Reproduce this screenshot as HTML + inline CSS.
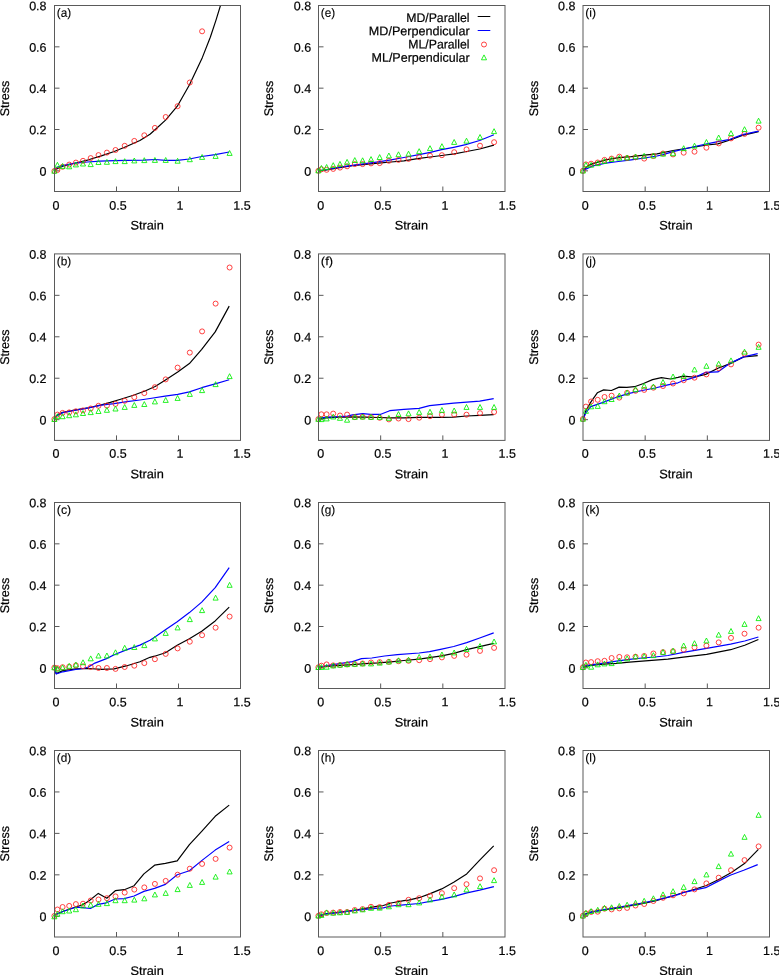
<!DOCTYPE html><html><head><meta charset="utf-8"><style>html,body{margin:0;padding:0;background:#fff;overflow:hidden;}svg{display:block;will-change:transform;}text{font-family:"Liberation Sans",sans-serif;text-rendering:geometricPrecision;fill:#000;stroke:#000;stroke-width:0.2px;}</style></head><body>
<svg width="779" height="975" viewBox="0 0 779 975">
<rect width="779" height="975" fill="#fff"/>
<path d="M54.50 170.83h5 M54.50 129.50h5 M54.50 88.17h5 M54.50 46.83h5 M116.50 191.50v-5 M178.50 191.50v-5" stroke="#5a5a5a" stroke-width="1" fill="none"/>
<text transform="rotate(0.05 46.55 175.68)" x="46.55" y="175.68" text-anchor="end" font-size="12.5">0</text>
<text transform="rotate(0.05 46.55 134.35)" x="46.55" y="134.35" text-anchor="end" font-size="12.5">0.2</text>
<text transform="rotate(0.05 46.55 93.02)" x="46.55" y="93.02" text-anchor="end" font-size="12.5">0.4</text>
<text transform="rotate(0.05 46.55 51.68)" x="46.55" y="51.68" text-anchor="end" font-size="12.5">0.6</text>
<text transform="rotate(0.05 46.55 10.35)" x="46.55" y="10.35" text-anchor="end" font-size="12.5">0.8</text>
<text transform="rotate(0.05 56.05 209.74)" x="56.05" y="209.74" text-anchor="middle" font-size="12.5">0</text>
<text transform="rotate(0.05 118.05 209.74)" x="118.05" y="209.74" text-anchor="middle" font-size="12.5">0.5</text>
<text transform="rotate(0.05 180.05 209.74)" x="180.05" y="209.74" text-anchor="middle" font-size="12.5">1</text>
<text transform="rotate(0.05 242.05 209.74)" x="242.05" y="209.74" text-anchor="middle" font-size="12.5">1.5</text>
<text transform="rotate(0.05 147.10 229.40)" x="147.10" y="229.40" text-anchor="middle" font-size="12.5" textLength="33.4" lengthAdjust="spacingAndGlyphs">Strain</text>
<text transform="translate(9.10 98.50) rotate(-90)" text-anchor="middle" font-size="12.5">Stress</text>
<text transform="rotate(0.05 56.80 16.80)" x="56.80" y="16.80" font-size="12.0" textLength="14.4" lengthAdjust="spacingAndGlyphs" style="stroke-width:0.12px">(a)</text>
<clipPath id="clipa"><rect x="54.5" y="5.5" width="186.0" height="186.0"/></clipPath>
<g clip-path="url(#clipa)">
<polyline points="54.5,170.0 62.8,166.2 75.7,163.0 88.5,159.8 101.3,155.9 114.2,151.5 127.0,146.3 139.9,140.5 150.0,134.2 157.2,127.8 165.8,119.9 177.3,106.2 189.5,84.7 202.4,57.4 210.3,37.3 216.0,20.1 229.2,-23.0" fill="none" stroke="#000000" stroke-width="1.2" stroke-linejoin="round"/>
<polyline points="54.5,169.5 57.7,167.0 62.5,165.7 75.0,163.2 87.5,162.0 100.1,161.2 115.0,160.7 127.0,160.3 143.9,160.2 155.1,159.5 165.4,160.4 177.2,160.4 189.4,159.0 201.7,156.5 215.2,154.7 229.2,152.0" fill="none" stroke="#0000ff" stroke-width="1.2" stroke-linejoin="round"/>
</g>
<circle cx="54.4" cy="171.0" r="2.5" fill="none" stroke="#ff2020" stroke-width="0.85"/>
<circle cx="57.4" cy="170.0" r="2.5" fill="none" stroke="#ff2020" stroke-width="0.85"/>
<circle cx="62.6" cy="166.8" r="2.5" fill="none" stroke="#ff2020" stroke-width="0.85"/>
<circle cx="69.2" cy="164.6" r="2.5" fill="none" stroke="#ff2020" stroke-width="0.85"/>
<circle cx="75.9" cy="162.6" r="2.5" fill="none" stroke="#ff2020" stroke-width="0.85"/>
<circle cx="83.0" cy="160.8" r="2.5" fill="none" stroke="#ff2020" stroke-width="0.85"/>
<circle cx="90.7" cy="158.1" r="2.5" fill="none" stroke="#ff2020" stroke-width="0.85"/>
<circle cx="98.5" cy="155.1" r="2.5" fill="none" stroke="#ff2020" stroke-width="0.85"/>
<circle cx="106.9" cy="152.6" r="2.5" fill="none" stroke="#ff2020" stroke-width="0.85"/>
<circle cx="115.5" cy="150.0" r="2.5" fill="none" stroke="#ff2020" stroke-width="0.85"/>
<circle cx="124.7" cy="145.8" r="2.5" fill="none" stroke="#ff2020" stroke-width="0.85"/>
<circle cx="134.3" cy="140.9" r="2.5" fill="none" stroke="#ff2020" stroke-width="0.85"/>
<circle cx="144.3" cy="135.3" r="2.5" fill="none" stroke="#ff2020" stroke-width="0.85"/>
<circle cx="154.9" cy="127.9" r="2.5" fill="none" stroke="#ff2020" stroke-width="0.85"/>
<circle cx="165.7" cy="117.0" r="2.5" fill="none" stroke="#ff2020" stroke-width="0.85"/>
<circle cx="177.6" cy="106.2" r="2.5" fill="none" stroke="#ff2020" stroke-width="0.85"/>
<circle cx="189.8" cy="82.5" r="2.5" fill="none" stroke="#ff2020" stroke-width="0.85"/>
<circle cx="202.1" cy="31.3" r="2.5" fill="none" stroke="#ff2020" stroke-width="0.85"/>
<path d="M54.40 168.30L56.95 173.20L51.85 173.20ZM57.40 162.30L59.95 167.20L54.85 167.20ZM62.60 163.50L65.15 168.40L60.05 168.40ZM69.20 163.90L71.75 168.80L66.65 168.80ZM75.90 162.00L78.45 166.90L73.35 166.90ZM83.00 161.10L85.55 166.00L80.45 166.00ZM90.70 161.70L93.25 166.60L88.15 166.60ZM98.50 159.60L101.05 164.50L95.95 164.50ZM106.90 159.40L109.45 164.30L104.35 164.30ZM115.50 158.70L118.05 163.60L112.95 163.60ZM124.70 158.70L127.25 163.60L122.15 163.60ZM134.30 158.00L136.85 162.90L131.75 162.90ZM144.30 157.70L146.85 162.60L141.75 162.60ZM154.90 157.50L157.45 162.40L152.35 162.40ZM165.70 157.50L168.25 162.40L163.15 162.40ZM177.60 158.30L180.15 163.20L175.05 163.20ZM189.80 156.80L192.35 161.70L187.25 161.70ZM202.10 154.50L204.65 159.40L199.55 159.40ZM215.60 153.50L218.15 158.40L213.05 158.40ZM229.60 150.50L232.15 155.40L227.05 155.40Z" fill="none" stroke="#00ee00" stroke-width="0.85"/>
<rect x="54.5" y="5.5" width="186.0" height="186.0" fill="none" stroke="#5a5a5a" stroke-width="1"/>
<path d="M54.50 419.68h5 M54.50 378.23h5 M54.50 336.79h5 M54.50 295.34h5 M116.50 440.40v-5 M178.50 440.40v-5" stroke="#5a5a5a" stroke-width="1" fill="none"/>
<text transform="rotate(0.05 46.55 424.53)" x="46.55" y="424.53" text-anchor="end" font-size="12.5">0</text>
<text transform="rotate(0.05 46.55 383.08)" x="46.55" y="383.08" text-anchor="end" font-size="12.5">0.2</text>
<text transform="rotate(0.05 46.55 341.64)" x="46.55" y="341.64" text-anchor="end" font-size="12.5">0.4</text>
<text transform="rotate(0.05 46.55 300.19)" x="46.55" y="300.19" text-anchor="end" font-size="12.5">0.6</text>
<text transform="rotate(0.05 46.55 258.75)" x="46.55" y="258.75" text-anchor="end" font-size="12.5">0.8</text>
<text transform="rotate(0.05 56.05 457.69)" x="56.05" y="457.69" text-anchor="middle" font-size="12.5">0</text>
<text transform="rotate(0.05 118.05 457.69)" x="118.05" y="457.69" text-anchor="middle" font-size="12.5">0.5</text>
<text transform="rotate(0.05 180.05 457.69)" x="180.05" y="457.69" text-anchor="middle" font-size="12.5">1</text>
<text transform="rotate(0.05 242.05 457.69)" x="242.05" y="457.69" text-anchor="middle" font-size="12.5">1.5</text>
<text transform="rotate(0.05 147.10 478.30)" x="147.10" y="478.30" text-anchor="middle" font-size="12.5" textLength="33.4" lengthAdjust="spacingAndGlyphs">Strain</text>
<text transform="translate(9.10 347.15) rotate(-90)" text-anchor="middle" font-size="12.5">Stress</text>
<text transform="rotate(0.05 56.80 265.20)" x="56.80" y="265.20" font-size="12.0" textLength="14.4" lengthAdjust="spacingAndGlyphs" style="stroke-width:0.12px">(b)</text>
<clipPath id="clipb"><rect x="54.5" y="253.9" width="186.0" height="186.49999999999997"/></clipPath>
<g clip-path="url(#clipb)">
<polyline points="54.5,418.4 57.7,414.6 62.8,412.4 75.7,409.8 88.5,407.8 101.3,404.9 110.3,402.4 120.6,399.2 133.4,395.3 145.0,391.0 155.1,386.5 165.1,380.2 177.7,371.9 189.4,363.6 201.7,349.4 215.2,331.9 229.2,306.1" fill="none" stroke="#000000" stroke-width="1.2" stroke-linejoin="round"/>
<polyline points="54.5,418.4 57.7,415.2 62.8,412.6 75.7,410.1 88.5,407.8 101.3,405.2 114.2,403.6 127.0,401.7 139.9,400.0 150.0,398.5 165.1,396.2 177.7,394.4 189.4,391.9 201.7,387.7 215.2,383.9 229.2,379.7" fill="none" stroke="#0000ff" stroke-width="1.2" stroke-linejoin="round"/>
</g>
<circle cx="54.4" cy="419.1" r="2.5" fill="none" stroke="#ff2020" stroke-width="0.85"/>
<circle cx="57.4" cy="414.6" r="2.5" fill="none" stroke="#ff2020" stroke-width="0.85"/>
<circle cx="62.6" cy="412.9" r="2.5" fill="none" stroke="#ff2020" stroke-width="0.85"/>
<circle cx="69.2" cy="412.4" r="2.5" fill="none" stroke="#ff2020" stroke-width="0.85"/>
<circle cx="75.9" cy="411.3" r="2.5" fill="none" stroke="#ff2020" stroke-width="0.85"/>
<circle cx="83.0" cy="410.4" r="2.5" fill="none" stroke="#ff2020" stroke-width="0.85"/>
<circle cx="90.7" cy="408.5" r="2.5" fill="none" stroke="#ff2020" stroke-width="0.85"/>
<circle cx="98.5" cy="405.8" r="2.5" fill="none" stroke="#ff2020" stroke-width="0.85"/>
<circle cx="106.9" cy="405.6" r="2.5" fill="none" stroke="#ff2020" stroke-width="0.85"/>
<circle cx="115.5" cy="403.9" r="2.5" fill="none" stroke="#ff2020" stroke-width="0.85"/>
<circle cx="124.7" cy="400.8" r="2.5" fill="none" stroke="#ff2020" stroke-width="0.85"/>
<circle cx="134.3" cy="397.2" r="2.5" fill="none" stroke="#ff2020" stroke-width="0.85"/>
<circle cx="144.3" cy="393.1" r="2.5" fill="none" stroke="#ff2020" stroke-width="0.85"/>
<circle cx="154.9" cy="387.2" r="2.5" fill="none" stroke="#ff2020" stroke-width="0.85"/>
<circle cx="165.7" cy="379.4" r="2.5" fill="none" stroke="#ff2020" stroke-width="0.85"/>
<circle cx="177.6" cy="367.6" r="2.5" fill="none" stroke="#ff2020" stroke-width="0.85"/>
<circle cx="189.8" cy="352.6" r="2.5" fill="none" stroke="#ff2020" stroke-width="0.85"/>
<circle cx="202.1" cy="331.4" r="2.5" fill="none" stroke="#ff2020" stroke-width="0.85"/>
<circle cx="215.6" cy="303.6" r="2.5" fill="none" stroke="#ff2020" stroke-width="0.85"/>
<circle cx="229.6" cy="267.5" r="2.5" fill="none" stroke="#ff2020" stroke-width="0.85"/>
<path d="M54.40 416.60L56.95 421.50L51.85 421.50ZM57.40 413.80L59.95 418.70L54.85 418.70ZM62.60 413.80L65.15 418.70L60.05 418.70ZM69.20 412.80L71.75 417.70L66.65 417.70ZM75.90 411.90L78.45 416.80L73.35 416.80ZM83.00 410.60L85.55 415.50L80.45 415.50ZM90.70 409.70L93.25 414.60L88.15 414.60ZM98.50 408.60L101.05 413.50L95.95 413.50ZM106.90 407.40L109.45 412.30L104.35 412.30ZM115.50 406.10L118.05 411.00L112.95 411.00ZM124.70 404.50L127.25 409.40L122.15 409.40ZM134.30 402.50L136.85 407.40L131.75 407.40ZM144.30 401.60L146.85 406.50L141.75 406.50ZM154.90 399.00L157.45 403.90L152.35 403.90ZM165.70 397.50L168.25 402.40L163.15 402.40ZM177.60 395.50L180.15 400.40L175.05 400.40ZM189.80 391.50L192.35 396.40L187.25 396.40ZM202.10 387.70L204.65 392.60L199.55 392.60ZM215.60 381.70L218.15 386.60L213.05 386.60ZM229.60 373.70L232.15 378.60L227.05 378.60Z" fill="none" stroke="#00ee00" stroke-width="0.85"/>
<rect x="54.5" y="253.9" width="186.0" height="186.49999999999997" fill="none" stroke="#5a5a5a" stroke-width="1"/>
<path d="M54.50 667.83h5 M54.50 626.50h5 M54.50 585.17h5 M54.50 543.83h5 M116.50 688.50v-5 M178.50 688.50v-5" stroke="#5a5a5a" stroke-width="1" fill="none"/>
<text transform="rotate(0.05 46.55 672.68)" x="46.55" y="672.68" text-anchor="end" font-size="12.5">0</text>
<text transform="rotate(0.05 46.55 631.35)" x="46.55" y="631.35" text-anchor="end" font-size="12.5">0.2</text>
<text transform="rotate(0.05 46.55 590.02)" x="46.55" y="590.02" text-anchor="end" font-size="12.5">0.4</text>
<text transform="rotate(0.05 46.55 548.68)" x="46.55" y="548.68" text-anchor="end" font-size="12.5">0.6</text>
<text transform="rotate(0.05 46.55 507.35)" x="46.55" y="507.35" text-anchor="end" font-size="12.5">0.8</text>
<text transform="rotate(0.05 56.05 706.39)" x="56.05" y="706.39" text-anchor="middle" font-size="12.5">0</text>
<text transform="rotate(0.05 118.05 706.39)" x="118.05" y="706.39" text-anchor="middle" font-size="12.5">0.5</text>
<text transform="rotate(0.05 180.05 706.39)" x="180.05" y="706.39" text-anchor="middle" font-size="12.5">1</text>
<text transform="rotate(0.05 242.05 706.39)" x="242.05" y="706.39" text-anchor="middle" font-size="12.5">1.5</text>
<text transform="rotate(0.05 147.10 726.40)" x="147.10" y="726.40" text-anchor="middle" font-size="12.5" textLength="33.4" lengthAdjust="spacingAndGlyphs">Strain</text>
<text transform="translate(9.10 595.50) rotate(-90)" text-anchor="middle" font-size="12.5">Stress</text>
<text transform="rotate(0.05 56.80 513.80)" x="56.80" y="513.80" font-size="12.0" textLength="14.4" lengthAdjust="spacingAndGlyphs" style="stroke-width:0.12px">(c)</text>
<clipPath id="clipc"><rect x="54.5" y="502.5" width="186.0" height="186.0"/></clipPath>
<g clip-path="url(#clipc)">
<polyline points="54.5,667.4 56.2,673.6 62.8,670.6 75.7,668.9 88.5,668.5 101.3,669.3 114.2,668.9 127.0,665.7 139.9,661.8 150.0,657.3 154.6,656.2 165.4,652.7 177.2,645.2 189.4,638.7 201.7,631.2 215.2,620.9 229.2,607.1" fill="none" stroke="#000000" stroke-width="1.2" stroke-linejoin="round"/>
<polyline points="54.5,667.4 56.2,674.0 62.8,671.8 75.7,669.5 83.4,668.5 88.5,667.0 94.9,663.1 106.5,658.6 114.2,654.8 127.0,649.6 139.9,645.1 150.0,640.3 154.6,637.2 165.4,629.7 177.2,621.7 189.4,612.6 201.7,602.1 215.2,587.6 229.2,567.6" fill="none" stroke="#0000ff" stroke-width="1.2" stroke-linejoin="round"/>
</g>
<circle cx="54.4" cy="667.6" r="2.5" fill="none" stroke="#ff2020" stroke-width="0.85"/>
<circle cx="57.4" cy="668.2" r="2.5" fill="none" stroke="#ff2020" stroke-width="0.85"/>
<circle cx="62.6" cy="667.2" r="2.5" fill="none" stroke="#ff2020" stroke-width="0.85"/>
<circle cx="69.2" cy="666.7" r="2.5" fill="none" stroke="#ff2020" stroke-width="0.85"/>
<circle cx="75.9" cy="665.4" r="2.5" fill="none" stroke="#ff2020" stroke-width="0.85"/>
<circle cx="83.0" cy="666.3" r="2.5" fill="none" stroke="#ff2020" stroke-width="0.85"/>
<circle cx="90.7" cy="667.0" r="2.5" fill="none" stroke="#ff2020" stroke-width="0.85"/>
<circle cx="98.5" cy="668.0" r="2.5" fill="none" stroke="#ff2020" stroke-width="0.85"/>
<circle cx="106.9" cy="668.0" r="2.5" fill="none" stroke="#ff2020" stroke-width="0.85"/>
<circle cx="115.5" cy="668.9" r="2.5" fill="none" stroke="#ff2020" stroke-width="0.85"/>
<circle cx="124.7" cy="667.0" r="2.5" fill="none" stroke="#ff2020" stroke-width="0.85"/>
<circle cx="134.3" cy="665.7" r="2.5" fill="none" stroke="#ff2020" stroke-width="0.85"/>
<circle cx="144.3" cy="663.1" r="2.5" fill="none" stroke="#ff2020" stroke-width="0.85"/>
<circle cx="154.9" cy="659.2" r="2.5" fill="none" stroke="#ff2020" stroke-width="0.85"/>
<circle cx="165.7" cy="653.9" r="2.5" fill="none" stroke="#ff2020" stroke-width="0.85"/>
<circle cx="177.6" cy="648.4" r="2.5" fill="none" stroke="#ff2020" stroke-width="0.85"/>
<circle cx="189.8" cy="641.7" r="2.5" fill="none" stroke="#ff2020" stroke-width="0.85"/>
<circle cx="202.1" cy="635.2" r="2.5" fill="none" stroke="#ff2020" stroke-width="0.85"/>
<circle cx="215.6" cy="627.7" r="2.5" fill="none" stroke="#ff2020" stroke-width="0.85"/>
<circle cx="229.6" cy="616.6" r="2.5" fill="none" stroke="#ff2020" stroke-width="0.85"/>
<path d="M54.40 664.90L56.95 669.80L51.85 669.80ZM57.40 666.20L59.95 671.10L54.85 671.10ZM62.60 664.90L65.15 669.80L60.05 669.80ZM69.20 663.40L71.75 668.30L66.65 668.30ZM75.90 662.10L78.45 667.00L73.35 667.00ZM83.00 659.80L85.55 664.70L80.45 664.70ZM90.70 655.90L93.25 660.80L88.15 660.80ZM98.50 653.10L101.05 658.00L95.95 658.00ZM106.90 653.00L109.45 657.90L104.35 657.90ZM115.50 649.80L118.05 654.70L112.95 654.70ZM124.70 645.30L127.25 650.20L122.15 650.20ZM134.30 644.60L136.85 649.50L131.75 649.50ZM144.30 642.70L146.85 647.60L141.75 647.60ZM154.90 636.00L157.45 640.90L152.35 640.90ZM165.70 630.50L168.25 635.40L163.15 635.40ZM177.60 625.00L180.15 629.90L175.05 629.90ZM189.80 616.70L192.35 621.60L187.25 621.60ZM202.10 607.70L204.65 612.60L199.55 612.60ZM215.60 595.20L218.15 600.10L213.05 600.10ZM229.60 582.40L232.15 587.30L227.05 587.30Z" fill="none" stroke="#00ee00" stroke-width="0.85"/>
<rect x="54.5" y="502.5" width="186.0" height="186.0" fill="none" stroke="#5a5a5a" stroke-width="1"/>
<path d="M54.50 916.28h5 M54.50 874.83h5 M54.50 833.39h5 M54.50 791.94h5 M116.50 937.00v-5 M178.50 937.00v-5" stroke="#5a5a5a" stroke-width="1" fill="none"/>
<text transform="rotate(0.05 46.55 921.13)" x="46.55" y="921.13" text-anchor="end" font-size="12.5">0</text>
<text transform="rotate(0.05 46.55 879.68)" x="46.55" y="879.68" text-anchor="end" font-size="12.5">0.2</text>
<text transform="rotate(0.05 46.55 838.24)" x="46.55" y="838.24" text-anchor="end" font-size="12.5">0.4</text>
<text transform="rotate(0.05 46.55 796.79)" x="46.55" y="796.79" text-anchor="end" font-size="12.5">0.6</text>
<text transform="rotate(0.05 46.55 755.35)" x="46.55" y="755.35" text-anchor="end" font-size="12.5">0.8</text>
<text transform="rotate(0.05 56.05 955.09)" x="56.05" y="955.09" text-anchor="middle" font-size="12.5">0</text>
<text transform="rotate(0.05 118.05 955.09)" x="118.05" y="955.09" text-anchor="middle" font-size="12.5">0.5</text>
<text transform="rotate(0.05 180.05 955.09)" x="180.05" y="955.09" text-anchor="middle" font-size="12.5">1</text>
<text transform="rotate(0.05 242.05 955.09)" x="242.05" y="955.09" text-anchor="middle" font-size="12.5">1.5</text>
<text transform="rotate(0.05 147.10 974.90)" x="147.10" y="974.90" text-anchor="middle" font-size="12.5" textLength="33.4" lengthAdjust="spacingAndGlyphs">Strain</text>
<text transform="translate(9.10 843.75) rotate(-90)" text-anchor="middle" font-size="12.5">Stress</text>
<text transform="rotate(0.05 56.80 761.80)" x="56.80" y="761.80" font-size="12.0" textLength="14.4" lengthAdjust="spacingAndGlyphs" style="stroke-width:0.12px">(d)</text>
<clipPath id="clipd"><rect x="54.5" y="750.5" width="186.0" height="186.5"/></clipPath>
<g clip-path="url(#clipd)">
<polyline points="54.1,915.3 62.8,911.5 75.7,907.0 82.1,905.0 88.5,901.2 98.3,893.4 106.8,898.2 115.3,890.7 124.3,889.7 134.1,885.7 143.9,873.9 154.6,865.2 165.4,863.4 177.2,860.9 189.4,844.6 201.7,831.4 215.2,816.3 229.2,805.1" fill="none" stroke="#000000" stroke-width="1.2" stroke-linejoin="round"/>
<polyline points="54.1,915.3 62.8,911.5 75.7,907.2 82.7,907.6 90.4,908.5 98.1,904.4 106.5,902.8 115.2,899.0 124.2,898.6 134.1,896.0 143.9,891.4 154.6,888.4 165.4,884.4 177.2,874.7 189.4,870.7 201.7,860.6 215.2,850.1 229.2,841.6" fill="none" stroke="#0000ff" stroke-width="1.2" stroke-linejoin="round"/>
</g>
<circle cx="54.4" cy="915.9" r="2.5" fill="none" stroke="#ff2020" stroke-width="0.85"/>
<circle cx="57.4" cy="909.5" r="2.5" fill="none" stroke="#ff2020" stroke-width="0.85"/>
<circle cx="62.6" cy="907.0" r="2.5" fill="none" stroke="#ff2020" stroke-width="0.85"/>
<circle cx="69.2" cy="905.9" r="2.5" fill="none" stroke="#ff2020" stroke-width="0.85"/>
<circle cx="75.9" cy="904.1" r="2.5" fill="none" stroke="#ff2020" stroke-width="0.85"/>
<circle cx="83.0" cy="903.7" r="2.5" fill="none" stroke="#ff2020" stroke-width="0.85"/>
<circle cx="90.7" cy="900.5" r="2.5" fill="none" stroke="#ff2020" stroke-width="0.85"/>
<circle cx="98.5" cy="899.5" r="2.5" fill="none" stroke="#ff2020" stroke-width="0.85"/>
<circle cx="106.9" cy="898.2" r="2.5" fill="none" stroke="#ff2020" stroke-width="0.85"/>
<circle cx="115.5" cy="896.4" r="2.5" fill="none" stroke="#ff2020" stroke-width="0.85"/>
<circle cx="124.7" cy="892.6" r="2.5" fill="none" stroke="#ff2020" stroke-width="0.85"/>
<circle cx="134.3" cy="889.6" r="2.5" fill="none" stroke="#ff2020" stroke-width="0.85"/>
<circle cx="144.3" cy="887.4" r="2.5" fill="none" stroke="#ff2020" stroke-width="0.85"/>
<circle cx="154.9" cy="883.9" r="2.5" fill="none" stroke="#ff2020" stroke-width="0.85"/>
<circle cx="165.7" cy="880.9" r="2.5" fill="none" stroke="#ff2020" stroke-width="0.85"/>
<circle cx="177.6" cy="874.7" r="2.5" fill="none" stroke="#ff2020" stroke-width="0.85"/>
<circle cx="189.8" cy="868.7" r="2.5" fill="none" stroke="#ff2020" stroke-width="0.85"/>
<circle cx="202.1" cy="863.9" r="2.5" fill="none" stroke="#ff2020" stroke-width="0.85"/>
<circle cx="215.6" cy="858.9" r="2.5" fill="none" stroke="#ff2020" stroke-width="0.85"/>
<circle cx="229.6" cy="847.6" r="2.5" fill="none" stroke="#ff2020" stroke-width="0.85"/>
<path d="M54.40 913.90L56.95 918.80L51.85 918.80ZM57.40 911.30L59.95 916.20L54.85 916.20ZM62.60 908.80L65.15 913.70L60.05 913.70ZM69.20 908.10L71.75 913.00L66.65 913.00ZM75.90 906.80L78.45 911.70L73.35 911.70ZM83.00 903.00L85.55 907.90L80.45 907.90ZM90.70 902.30L93.25 907.20L88.15 907.20ZM98.50 901.40L101.05 906.30L95.95 906.30ZM106.90 900.70L109.45 905.60L104.35 905.60ZM115.50 897.80L118.05 902.70L112.95 902.70ZM124.70 897.80L127.25 902.70L122.15 902.70ZM134.30 897.20L136.85 902.10L131.75 902.10ZM144.30 895.90L146.85 900.80L141.75 900.80ZM154.90 892.00L157.45 896.90L152.35 896.90ZM165.70 890.50L168.25 895.40L163.15 895.40ZM177.60 886.70L180.15 891.60L175.05 891.60ZM189.80 882.50L192.35 887.40L187.25 887.40ZM202.10 879.50L204.65 884.40L199.55 884.40ZM215.60 874.20L218.15 879.10L213.05 879.10ZM229.60 869.00L232.15 873.90L227.05 873.90Z" fill="none" stroke="#00ee00" stroke-width="0.85"/>
<rect x="54.5" y="750.5" width="186.0" height="186.5" fill="none" stroke="#5a5a5a" stroke-width="1"/>
<path d="M318.50 170.83h5 M318.50 129.50h5 M318.50 88.17h5 M318.50 46.83h5 M380.67 191.50v-5 M442.83 191.50v-5" stroke="#5a5a5a" stroke-width="1" fill="none"/>
<text transform="rotate(0.05 311.10 175.68)" x="311.10" y="175.68" text-anchor="end" font-size="12.5">0</text>
<text transform="rotate(0.05 311.10 134.35)" x="311.10" y="134.35" text-anchor="end" font-size="12.5">0.2</text>
<text transform="rotate(0.05 311.10 93.02)" x="311.10" y="93.02" text-anchor="end" font-size="12.5">0.4</text>
<text transform="rotate(0.05 311.10 51.68)" x="311.10" y="51.68" text-anchor="end" font-size="12.5">0.6</text>
<text transform="rotate(0.05 311.10 10.35)" x="311.10" y="10.35" text-anchor="end" font-size="12.5">0.8</text>
<text transform="rotate(0.05 320.70 209.74)" x="320.70" y="209.74" text-anchor="middle" font-size="12.5">0</text>
<text transform="rotate(0.05 382.87 209.74)" x="382.87" y="209.74" text-anchor="middle" font-size="12.5">0.5</text>
<text transform="rotate(0.05 445.03 209.74)" x="445.03" y="209.74" text-anchor="middle" font-size="12.5">1</text>
<text transform="rotate(0.05 507.20 209.74)" x="507.20" y="209.74" text-anchor="middle" font-size="12.5">1.5</text>
<text transform="rotate(0.05 411.35 229.40)" x="411.35" y="229.40" text-anchor="middle" font-size="12.5" textLength="33.4" lengthAdjust="spacingAndGlyphs">Strain</text>
<text transform="translate(273.10 98.50) rotate(-90)" text-anchor="middle" font-size="12.5">Stress</text>
<text transform="rotate(0.05 320.80 16.80)" x="320.80" y="16.80" font-size="12.0" textLength="14.4" lengthAdjust="spacingAndGlyphs" style="stroke-width:0.12px">(e)</text>
<clipPath id="clipe"><rect x="318.5" y="5.5" width="186.5" height="186.0"/></clipPath>
<g clip-path="url(#clipe)">
<polyline points="318.5,170.8 326.8,169.8 339.7,167.6 352.5,165.7 365.3,164.3 378.2,163.2 391.0,162.0 403.9,160.8 419.1,158.4 430.3,157.0 441.7,155.5 454.3,153.9 466.7,151.5 479.7,149.0 493.9,145.1" fill="none" stroke="#000000" stroke-width="1.2" stroke-linejoin="round"/>
<polyline points="318.5,170.8 326.8,169.5 339.7,167.2 352.5,165.4 365.3,163.7 378.2,161.8 391.0,159.9 403.9,157.5 419.0,154.6 430.3,152.3 441.6,149.7 453.7,147.3 465.6,144.7 479.7,140.5 493.9,134.8" fill="none" stroke="#0000ff" stroke-width="1.2" stroke-linejoin="round"/>
</g>
<circle cx="318.4" cy="170.8" r="2.5" fill="none" stroke="#ff2020" stroke-width="0.85"/>
<circle cx="321.4" cy="169.3" r="2.5" fill="none" stroke="#ff2020" stroke-width="0.85"/>
<circle cx="326.6" cy="169.8" r="2.5" fill="none" stroke="#ff2020" stroke-width="0.85"/>
<circle cx="333.2" cy="168.9" r="2.5" fill="none" stroke="#ff2020" stroke-width="0.85"/>
<circle cx="340.0" cy="167.6" r="2.5" fill="none" stroke="#ff2020" stroke-width="0.85"/>
<circle cx="347.1" cy="166.3" r="2.5" fill="none" stroke="#ff2020" stroke-width="0.85"/>
<circle cx="354.8" cy="164.1" r="2.5" fill="none" stroke="#ff2020" stroke-width="0.85"/>
<circle cx="362.6" cy="164.1" r="2.5" fill="none" stroke="#ff2020" stroke-width="0.85"/>
<circle cx="371.0" cy="163.4" r="2.5" fill="none" stroke="#ff2020" stroke-width="0.85"/>
<circle cx="379.7" cy="163.1" r="2.5" fill="none" stroke="#ff2020" stroke-width="0.85"/>
<circle cx="388.9" cy="160.8" r="2.5" fill="none" stroke="#ff2020" stroke-width="0.85"/>
<circle cx="398.5" cy="159.9" r="2.5" fill="none" stroke="#ff2020" stroke-width="0.85"/>
<circle cx="408.5" cy="158.9" r="2.5" fill="none" stroke="#ff2020" stroke-width="0.85"/>
<circle cx="419.2" cy="157.2" r="2.5" fill="none" stroke="#ff2020" stroke-width="0.85"/>
<circle cx="430.0" cy="155.7" r="2.5" fill="none" stroke="#ff2020" stroke-width="0.85"/>
<circle cx="441.9" cy="155.2" r="2.5" fill="none" stroke="#ff2020" stroke-width="0.85"/>
<circle cx="454.2" cy="152.2" r="2.5" fill="none" stroke="#ff2020" stroke-width="0.85"/>
<circle cx="466.5" cy="149.4" r="2.5" fill="none" stroke="#ff2020" stroke-width="0.85"/>
<circle cx="480.0" cy="145.7" r="2.5" fill="none" stroke="#ff2020" stroke-width="0.85"/>
<circle cx="494.1" cy="142.2" r="2.5" fill="none" stroke="#ff2020" stroke-width="0.85"/>
<path d="M318.40 167.90L320.95 172.80L315.85 172.80ZM321.41 165.50L323.96 170.40L318.86 170.40ZM326.62 164.50L329.17 169.40L324.07 169.40ZM333.24 162.70L335.79 167.60L330.69 167.60ZM339.96 161.40L342.51 166.30L337.41 166.30ZM347.08 159.40L349.63 164.30L344.53 164.30ZM354.80 157.60L357.35 162.50L352.25 162.50ZM362.62 157.80L365.17 162.70L360.07 162.70ZM371.04 156.60L373.59 161.50L368.49 161.50ZM379.66 154.60L382.21 159.50L377.11 159.50ZM388.89 153.00L391.44 157.90L386.34 157.90ZM398.51 151.80L401.06 156.70L395.96 156.70ZM408.54 151.20L411.09 156.10L405.99 156.10ZM419.17 148.70L421.72 153.60L416.62 153.60ZM430.00 145.70L432.55 150.60L427.45 150.60ZM441.93 143.70L444.48 148.60L439.38 148.60ZM454.16 139.50L456.71 144.40L451.61 144.40ZM466.50 138.20L469.05 143.10L463.95 143.10ZM480.03 134.50L482.58 139.40L477.48 139.40ZM494.07 128.70L496.62 133.60L491.52 133.60Z" fill="none" stroke="#00ee00" stroke-width="0.85"/>
<rect x="318.5" y="5.5" width="186.5" height="186.0" fill="none" stroke="#5a5a5a" stroke-width="1"/>
<path d="M318.50 419.68h5 M318.50 378.23h5 M318.50 336.79h5 M318.50 295.34h5 M380.67 440.40v-5 M442.83 440.40v-5" stroke="#5a5a5a" stroke-width="1" fill="none"/>
<text transform="rotate(0.05 311.10 424.53)" x="311.10" y="424.53" text-anchor="end" font-size="12.5">0</text>
<text transform="rotate(0.05 311.10 383.08)" x="311.10" y="383.08" text-anchor="end" font-size="12.5">0.2</text>
<text transform="rotate(0.05 311.10 341.64)" x="311.10" y="341.64" text-anchor="end" font-size="12.5">0.4</text>
<text transform="rotate(0.05 311.10 300.19)" x="311.10" y="300.19" text-anchor="end" font-size="12.5">0.6</text>
<text transform="rotate(0.05 311.10 258.75)" x="311.10" y="258.75" text-anchor="end" font-size="12.5">0.8</text>
<text transform="rotate(0.05 320.70 457.69)" x="320.70" y="457.69" text-anchor="middle" font-size="12.5">0</text>
<text transform="rotate(0.05 382.87 457.69)" x="382.87" y="457.69" text-anchor="middle" font-size="12.5">0.5</text>
<text transform="rotate(0.05 445.03 457.69)" x="445.03" y="457.69" text-anchor="middle" font-size="12.5">1</text>
<text transform="rotate(0.05 507.20 457.69)" x="507.20" y="457.69" text-anchor="middle" font-size="12.5">1.5</text>
<text transform="rotate(0.05 411.35 478.30)" x="411.35" y="478.30" text-anchor="middle" font-size="12.5" textLength="33.4" lengthAdjust="spacingAndGlyphs">Strain</text>
<text transform="translate(273.10 347.15) rotate(-90)" text-anchor="middle" font-size="12.5">Stress</text>
<text transform="rotate(0.05 320.80 265.20)" x="320.80" y="265.20" font-size="12.0" textLength="12.3" lengthAdjust="spacingAndGlyphs" style="stroke-width:0.12px">(f)</text>
<clipPath id="clipf"><rect x="318.5" y="253.9" width="186.5" height="186.49999999999997"/></clipPath>
<g clip-path="url(#clipf)">
<polyline points="318.5,418.7 326.8,417.9 339.7,417.1 352.5,416.8 365.3,417.1 378.2,417.5 391.0,417.9 403.9,417.9 419.1,417.4 441.7,417.4 453.7,417.2 466.7,416.0 479.7,415.4 493.7,414.7" fill="none" stroke="#000000" stroke-width="1.2" stroke-linejoin="round"/>
<polyline points="318.5,418.4 326.8,417.1 339.7,416.6 347.4,416.2 352.5,414.9 362.8,413.6 370.5,414.3 380.8,414.3 389.7,410.7 403.9,409.3 419.1,408.3 429.6,405.7 441.7,404.3 453.7,403.1 466.7,402.2 479.7,401.2 493.7,398.7" fill="none" stroke="#0000ff" stroke-width="1.2" stroke-linejoin="round"/>
</g>
<circle cx="318.4" cy="419.1" r="2.5" fill="none" stroke="#ff2020" stroke-width="0.85"/>
<circle cx="321.4" cy="414.3" r="2.5" fill="none" stroke="#ff2020" stroke-width="0.85"/>
<circle cx="326.6" cy="414.3" r="2.5" fill="none" stroke="#ff2020" stroke-width="0.85"/>
<circle cx="333.2" cy="413.6" r="2.5" fill="none" stroke="#ff2020" stroke-width="0.85"/>
<circle cx="340.0" cy="415.5" r="2.5" fill="none" stroke="#ff2020" stroke-width="0.85"/>
<circle cx="347.1" cy="414.6" r="2.5" fill="none" stroke="#ff2020" stroke-width="0.85"/>
<circle cx="354.8" cy="417.1" r="2.5" fill="none" stroke="#ff2020" stroke-width="0.85"/>
<circle cx="362.6" cy="416.8" r="2.5" fill="none" stroke="#ff2020" stroke-width="0.85"/>
<circle cx="371.0" cy="417.1" r="2.5" fill="none" stroke="#ff2020" stroke-width="0.85"/>
<circle cx="379.7" cy="417.8" r="2.5" fill="none" stroke="#ff2020" stroke-width="0.85"/>
<circle cx="388.9" cy="419.4" r="2.5" fill="none" stroke="#ff2020" stroke-width="0.85"/>
<circle cx="398.5" cy="418.5" r="2.5" fill="none" stroke="#ff2020" stroke-width="0.85"/>
<circle cx="408.5" cy="419.1" r="2.5" fill="none" stroke="#ff2020" stroke-width="0.85"/>
<circle cx="419.2" cy="417.7" r="2.5" fill="none" stroke="#ff2020" stroke-width="0.85"/>
<circle cx="430.0" cy="416.2" r="2.5" fill="none" stroke="#ff2020" stroke-width="0.85"/>
<circle cx="441.9" cy="414.7" r="2.5" fill="none" stroke="#ff2020" stroke-width="0.85"/>
<circle cx="454.2" cy="414.5" r="2.5" fill="none" stroke="#ff2020" stroke-width="0.85"/>
<circle cx="466.5" cy="414.7" r="2.5" fill="none" stroke="#ff2020" stroke-width="0.85"/>
<circle cx="480.0" cy="413.2" r="2.5" fill="none" stroke="#ff2020" stroke-width="0.85"/>
<circle cx="494.1" cy="412.0" r="2.5" fill="none" stroke="#ff2020" stroke-width="0.85"/>
<path d="M318.40 416.40L320.95 421.30L315.85 421.30ZM321.41 416.70L323.96 421.60L318.86 421.60ZM326.62 416.00L329.17 420.90L324.07 420.90ZM333.24 414.10L335.79 419.00L330.69 419.00ZM339.96 415.40L342.51 420.30L337.41 420.30ZM347.08 417.30L349.63 422.20L344.53 422.20ZM354.80 414.40L357.35 419.30L352.25 419.30ZM362.62 414.10L365.17 419.00L360.07 419.00ZM371.04 414.40L373.59 419.30L368.49 419.30ZM379.66 414.40L382.21 419.30L377.11 419.30ZM388.89 415.40L391.44 420.30L386.34 420.30ZM398.51 411.60L401.06 416.50L395.96 416.50ZM408.54 410.90L411.09 415.80L405.99 415.80ZM419.17 409.50L421.72 414.40L416.62 414.40ZM430.00 409.30L432.55 414.20L427.45 414.20ZM441.93 407.50L444.48 412.40L439.38 412.40ZM454.16 408.00L456.71 412.90L451.61 412.90ZM466.50 404.50L469.05 409.40L463.95 409.40ZM480.03 404.50L482.58 409.40L477.48 409.40ZM494.07 404.50L496.62 409.40L491.52 409.40Z" fill="none" stroke="#00ee00" stroke-width="0.85"/>
<rect x="318.5" y="253.9" width="186.5" height="186.49999999999997" fill="none" stroke="#5a5a5a" stroke-width="1"/>
<path d="M318.50 667.83h5 M318.50 626.50h5 M318.50 585.17h5 M318.50 543.83h5 M380.67 688.50v-5 M442.83 688.50v-5" stroke="#5a5a5a" stroke-width="1" fill="none"/>
<text transform="rotate(0.05 311.10 672.68)" x="311.10" y="672.68" text-anchor="end" font-size="12.5">0</text>
<text transform="rotate(0.05 311.10 631.35)" x="311.10" y="631.35" text-anchor="end" font-size="12.5">0.2</text>
<text transform="rotate(0.05 311.10 590.02)" x="311.10" y="590.02" text-anchor="end" font-size="12.5">0.4</text>
<text transform="rotate(0.05 311.10 548.68)" x="311.10" y="548.68" text-anchor="end" font-size="12.5">0.6</text>
<text transform="rotate(0.05 311.10 507.35)" x="311.10" y="507.35" text-anchor="end" font-size="12.5">0.8</text>
<text transform="rotate(0.05 320.70 706.39)" x="320.70" y="706.39" text-anchor="middle" font-size="12.5">0</text>
<text transform="rotate(0.05 382.87 706.39)" x="382.87" y="706.39" text-anchor="middle" font-size="12.5">0.5</text>
<text transform="rotate(0.05 445.03 706.39)" x="445.03" y="706.39" text-anchor="middle" font-size="12.5">1</text>
<text transform="rotate(0.05 507.20 706.39)" x="507.20" y="706.39" text-anchor="middle" font-size="12.5">1.5</text>
<text transform="rotate(0.05 411.35 726.40)" x="411.35" y="726.40" text-anchor="middle" font-size="12.5" textLength="33.4" lengthAdjust="spacingAndGlyphs">Strain</text>
<text transform="translate(273.10 595.50) rotate(-90)" text-anchor="middle" font-size="12.5">Stress</text>
<text transform="rotate(0.05 320.80 513.80)" x="320.80" y="513.80" font-size="12.0" textLength="14.4" lengthAdjust="spacingAndGlyphs" style="stroke-width:0.12px">(g)</text>
<clipPath id="clipg"><rect x="318.5" y="502.5" width="186.5" height="186.0"/></clipPath>
<g clip-path="url(#clipg)">
<polyline points="318.5,667.3 326.8,666.3 339.7,665.4 352.5,664.6 365.3,663.7 378.2,662.9 391.0,661.8 403.9,660.5 419.1,659.2 441.7,655.9 453.7,653.4 466.7,649.7 479.7,646.7 493.7,643.4" fill="none" stroke="#000000" stroke-width="1.2" stroke-linejoin="round"/>
<polyline points="318.5,667.3 326.8,665.7 339.7,663.7 352.5,661.6 361.5,658.6 371.8,658.0 384.6,656.0 397.4,654.6 419.1,653.0 429.6,651.7 441.7,649.2 453.7,646.5 466.7,642.6 479.7,638.0 493.7,632.9" fill="none" stroke="#0000ff" stroke-width="1.2" stroke-linejoin="round"/>
</g>
<circle cx="318.4" cy="667.3" r="2.5" fill="none" stroke="#ff2020" stroke-width="0.85"/>
<circle cx="321.4" cy="665.7" r="2.5" fill="none" stroke="#ff2020" stroke-width="0.85"/>
<circle cx="326.6" cy="664.4" r="2.5" fill="none" stroke="#ff2020" stroke-width="0.85"/>
<circle cx="333.2" cy="665.4" r="2.5" fill="none" stroke="#ff2020" stroke-width="0.85"/>
<circle cx="340.0" cy="665.0" r="2.5" fill="none" stroke="#ff2020" stroke-width="0.85"/>
<circle cx="347.1" cy="664.4" r="2.5" fill="none" stroke="#ff2020" stroke-width="0.85"/>
<circle cx="354.8" cy="664.1" r="2.5" fill="none" stroke="#ff2020" stroke-width="0.85"/>
<circle cx="362.6" cy="663.5" r="2.5" fill="none" stroke="#ff2020" stroke-width="0.85"/>
<circle cx="371.0" cy="662.5" r="2.5" fill="none" stroke="#ff2020" stroke-width="0.85"/>
<circle cx="379.7" cy="662.1" r="2.5" fill="none" stroke="#ff2020" stroke-width="0.85"/>
<circle cx="388.9" cy="661.8" r="2.5" fill="none" stroke="#ff2020" stroke-width="0.85"/>
<circle cx="398.5" cy="661.2" r="2.5" fill="none" stroke="#ff2020" stroke-width="0.85"/>
<circle cx="408.5" cy="660.8" r="2.5" fill="none" stroke="#ff2020" stroke-width="0.85"/>
<circle cx="419.2" cy="660.2" r="2.5" fill="none" stroke="#ff2020" stroke-width="0.85"/>
<circle cx="430.0" cy="659.2" r="2.5" fill="none" stroke="#ff2020" stroke-width="0.85"/>
<circle cx="441.9" cy="657.4" r="2.5" fill="none" stroke="#ff2020" stroke-width="0.85"/>
<circle cx="454.2" cy="655.9" r="2.5" fill="none" stroke="#ff2020" stroke-width="0.85"/>
<circle cx="466.5" cy="654.7" r="2.5" fill="none" stroke="#ff2020" stroke-width="0.85"/>
<circle cx="480.0" cy="650.9" r="2.5" fill="none" stroke="#ff2020" stroke-width="0.85"/>
<circle cx="494.1" cy="647.9" r="2.5" fill="none" stroke="#ff2020" stroke-width="0.85"/>
<path d="M318.40 664.60L320.95 669.50L315.85 669.50ZM321.41 664.50L323.96 669.40L318.86 669.40ZM326.62 664.30L329.17 669.20L324.07 669.20ZM333.24 663.00L335.79 667.90L330.69 667.90ZM339.96 662.30L342.51 667.20L337.41 667.20ZM347.08 661.70L349.63 666.60L344.53 666.60ZM354.80 661.40L357.35 666.30L352.25 666.30ZM362.62 661.00L365.17 665.90L360.07 665.90ZM371.04 661.00L373.59 665.90L368.49 665.90ZM379.66 660.20L382.21 665.10L377.11 665.10ZM388.89 659.10L391.44 664.00L386.34 664.00ZM398.51 657.80L401.06 662.70L395.96 662.70ZM408.54 657.20L411.09 662.10L405.99 662.10ZM419.17 654.50L421.72 659.40L416.62 659.40ZM430.00 654.00L432.55 658.90L427.45 658.90ZM441.93 652.00L444.48 656.90L439.38 656.90ZM454.16 650.00L456.71 654.90L451.61 654.90ZM466.50 646.50L469.05 651.40L463.95 651.40ZM480.03 643.50L482.58 648.40L477.48 648.40ZM494.07 639.00L496.62 643.90L491.52 643.90Z" fill="none" stroke="#00ee00" stroke-width="0.85"/>
<rect x="318.5" y="502.5" width="186.5" height="186.0" fill="none" stroke="#5a5a5a" stroke-width="1"/>
<path d="M318.50 916.28h5 M318.50 874.83h5 M318.50 833.39h5 M318.50 791.94h5 M380.67 937.00v-5 M442.83 937.00v-5" stroke="#5a5a5a" stroke-width="1" fill="none"/>
<text transform="rotate(0.05 311.10 921.13)" x="311.10" y="921.13" text-anchor="end" font-size="12.5">0</text>
<text transform="rotate(0.05 311.10 879.68)" x="311.10" y="879.68" text-anchor="end" font-size="12.5">0.2</text>
<text transform="rotate(0.05 311.10 838.24)" x="311.10" y="838.24" text-anchor="end" font-size="12.5">0.4</text>
<text transform="rotate(0.05 311.10 796.79)" x="311.10" y="796.79" text-anchor="end" font-size="12.5">0.6</text>
<text transform="rotate(0.05 311.10 755.35)" x="311.10" y="755.35" text-anchor="end" font-size="12.5">0.8</text>
<text transform="rotate(0.05 320.70 955.09)" x="320.70" y="955.09" text-anchor="middle" font-size="12.5">0</text>
<text transform="rotate(0.05 382.87 955.09)" x="382.87" y="955.09" text-anchor="middle" font-size="12.5">0.5</text>
<text transform="rotate(0.05 445.03 955.09)" x="445.03" y="955.09" text-anchor="middle" font-size="12.5">1</text>
<text transform="rotate(0.05 507.20 955.09)" x="507.20" y="955.09" text-anchor="middle" font-size="12.5">1.5</text>
<text transform="rotate(0.05 411.35 974.90)" x="411.35" y="974.90" text-anchor="middle" font-size="12.5" textLength="33.4" lengthAdjust="spacingAndGlyphs">Strain</text>
<text transform="translate(273.10 843.75) rotate(-90)" text-anchor="middle" font-size="12.5">Stress</text>
<text transform="rotate(0.05 320.80 761.80)" x="320.80" y="761.80" font-size="12.0" textLength="14.4" lengthAdjust="spacingAndGlyphs" style="stroke-width:0.12px">(h)</text>
<clipPath id="cliph"><rect x="318.5" y="750.5" width="186.5" height="186.5"/></clipPath>
<g clip-path="url(#cliph)">
<polyline points="318.5,915.8 326.8,913.5 339.7,912.0 352.5,910.7 365.3,908.4 378.2,906.2 383.3,905.5 391.0,903.0 403.9,900.7 408.6,900.2 419.1,897.7 429.6,893.9 441.7,888.9 453.7,882.2 466.7,873.9 479.7,860.1 493.7,845.9" fill="none" stroke="#000000" stroke-width="1.2" stroke-linejoin="round"/>
<polyline points="318.5,915.8 326.8,913.9 339.7,912.6 352.5,910.7 365.3,909.4 378.2,908.1 383.3,907.9 391.0,906.0 403.9,904.8 419.0,903.5 430.0,901.3 441.6,899.3 454.3,896.4 467.0,892.9 479.7,890.1 493.9,886.6" fill="none" stroke="#0000ff" stroke-width="1.2" stroke-linejoin="round"/>
</g>
<circle cx="318.4" cy="915.8" r="2.5" fill="none" stroke="#ff2020" stroke-width="0.85"/>
<circle cx="321.4" cy="914.3" r="2.5" fill="none" stroke="#ff2020" stroke-width="0.85"/>
<circle cx="326.6" cy="913.0" r="2.5" fill="none" stroke="#ff2020" stroke-width="0.85"/>
<circle cx="333.2" cy="912.6" r="2.5" fill="none" stroke="#ff2020" stroke-width="0.85"/>
<circle cx="340.0" cy="912.0" r="2.5" fill="none" stroke="#ff2020" stroke-width="0.85"/>
<circle cx="347.1" cy="912.0" r="2.5" fill="none" stroke="#ff2020" stroke-width="0.85"/>
<circle cx="354.8" cy="910.0" r="2.5" fill="none" stroke="#ff2020" stroke-width="0.85"/>
<circle cx="362.6" cy="909.1" r="2.5" fill="none" stroke="#ff2020" stroke-width="0.85"/>
<circle cx="371.0" cy="906.8" r="2.5" fill="none" stroke="#ff2020" stroke-width="0.85"/>
<circle cx="379.7" cy="907.1" r="2.5" fill="none" stroke="#ff2020" stroke-width="0.85"/>
<circle cx="388.9" cy="904.9" r="2.5" fill="none" stroke="#ff2020" stroke-width="0.85"/>
<circle cx="398.5" cy="903.0" r="2.5" fill="none" stroke="#ff2020" stroke-width="0.85"/>
<circle cx="408.5" cy="899.8" r="2.5" fill="none" stroke="#ff2020" stroke-width="0.85"/>
<circle cx="419.2" cy="898.2" r="2.5" fill="none" stroke="#ff2020" stroke-width="0.85"/>
<circle cx="430.0" cy="895.9" r="2.5" fill="none" stroke="#ff2020" stroke-width="0.85"/>
<circle cx="441.9" cy="893.2" r="2.5" fill="none" stroke="#ff2020" stroke-width="0.85"/>
<circle cx="454.2" cy="888.2" r="2.5" fill="none" stroke="#ff2020" stroke-width="0.85"/>
<circle cx="466.5" cy="884.2" r="2.5" fill="none" stroke="#ff2020" stroke-width="0.85"/>
<circle cx="480.0" cy="878.4" r="2.5" fill="none" stroke="#ff2020" stroke-width="0.85"/>
<circle cx="494.1" cy="870.2" r="2.5" fill="none" stroke="#ff2020" stroke-width="0.85"/>
<path d="M318.40 913.10L320.95 918.00L315.85 918.00ZM321.41 912.50L323.96 917.40L318.86 917.40ZM326.62 909.90L329.17 914.80L324.07 914.80ZM333.24 910.30L335.79 915.20L330.69 915.20ZM339.96 909.90L342.51 914.80L337.41 914.80ZM347.08 909.50L349.63 914.40L344.53 914.40ZM354.80 908.00L357.35 912.90L352.25 912.90ZM362.62 906.90L365.17 911.80L360.07 911.80ZM371.04 905.40L373.59 910.30L368.49 910.30ZM379.66 905.20L382.21 910.10L377.11 910.10ZM388.89 903.90L391.44 908.80L386.34 908.80ZM398.51 901.80L401.06 906.70L395.96 906.70ZM408.54 901.80L411.09 906.70L405.99 906.70ZM419.17 900.00L421.72 904.90L416.62 904.90ZM430.00 897.00L432.55 901.90L427.45 901.90ZM441.93 894.00L444.48 898.90L439.38 898.90ZM454.16 892.00L456.71 896.90L451.61 896.90ZM466.50 887.00L469.05 891.90L463.95 891.90ZM480.03 883.70L482.58 888.60L477.48 888.60ZM494.07 877.70L496.62 882.60L491.52 882.60Z" fill="none" stroke="#00ee00" stroke-width="0.85"/>
<rect x="318.5" y="750.5" width="186.5" height="186.5" fill="none" stroke="#5a5a5a" stroke-width="1"/>
<path d="M583.00 170.83h5 M583.00 129.50h5 M583.00 88.17h5 M583.00 46.83h5 M645.17 191.50v-5 M707.33 191.50v-5" stroke="#5a5a5a" stroke-width="1" fill="none"/>
<text transform="rotate(0.05 575.45 175.68)" x="575.45" y="175.68" text-anchor="end" font-size="12.5">0</text>
<text transform="rotate(0.05 575.45 134.35)" x="575.45" y="134.35" text-anchor="end" font-size="12.5">0.2</text>
<text transform="rotate(0.05 575.45 93.02)" x="575.45" y="93.02" text-anchor="end" font-size="12.5">0.4</text>
<text transform="rotate(0.05 575.45 51.68)" x="575.45" y="51.68" text-anchor="end" font-size="12.5">0.6</text>
<text transform="rotate(0.05 575.45 10.35)" x="575.45" y="10.35" text-anchor="end" font-size="12.5">0.8</text>
<text transform="rotate(0.05 585.15 209.74)" x="585.15" y="209.74" text-anchor="middle" font-size="12.5">0</text>
<text transform="rotate(0.05 647.32 209.74)" x="647.32" y="209.74" text-anchor="middle" font-size="12.5">0.5</text>
<text transform="rotate(0.05 709.48 209.74)" x="709.48" y="209.74" text-anchor="middle" font-size="12.5">1</text>
<text transform="rotate(0.05 771.65 209.74)" x="771.65" y="209.74" text-anchor="middle" font-size="12.5">1.5</text>
<text transform="rotate(0.05 675.85 229.40)" x="675.85" y="229.40" text-anchor="middle" font-size="12.5" textLength="33.4" lengthAdjust="spacingAndGlyphs">Strain</text>
<text transform="translate(537.60 98.50) rotate(-90)" text-anchor="middle" font-size="12.5">Stress</text>
<text transform="rotate(0.05 585.30 16.80)" x="585.30" y="16.80" font-size="12.0" textLength="10.8" lengthAdjust="spacingAndGlyphs" style="stroke-width:0.12px">(i)</text>
<clipPath id="clipi"><rect x="583.0" y="5.5" width="186.5" height="186.0"/></clipPath>
<g clip-path="url(#clipi)">
<polyline points="583.2,170.4 587.7,165.9 592.8,163.6 605.7,159.8 618.5,157.6 631.3,156.7 644.2,155.2 657.0,153.9 673.1,150.5 694.7,147.0 707.0,145.0 717.8,143.9 730.1,140.0 742.4,135.4 758.6,131.6" fill="none" stroke="#000000" stroke-width="1.2" stroke-linejoin="round"/>
<polyline points="583.2,170.4 592.8,165.9 605.7,163.1 618.5,161.5 631.3,159.8 644.2,158.0 657.0,156.0 663.1,154.6 673.1,151.6 694.7,146.5 707.0,143.9 717.8,141.6 730.1,139.3 742.4,134.6 758.6,131.1" fill="none" stroke="#0000ff" stroke-width="1.2" stroke-linejoin="round"/>
</g>
<circle cx="582.9" cy="170.8" r="2.5" fill="none" stroke="#ff2020" stroke-width="0.85"/>
<circle cx="585.9" cy="164.4" r="2.5" fill="none" stroke="#ff2020" stroke-width="0.85"/>
<circle cx="591.1" cy="163.7" r="2.5" fill="none" stroke="#ff2020" stroke-width="0.85"/>
<circle cx="597.7" cy="162.5" r="2.5" fill="none" stroke="#ff2020" stroke-width="0.85"/>
<circle cx="604.5" cy="159.9" r="2.5" fill="none" stroke="#ff2020" stroke-width="0.85"/>
<circle cx="611.6" cy="158.6" r="2.5" fill="none" stroke="#ff2020" stroke-width="0.85"/>
<circle cx="619.3" cy="156.7" r="2.5" fill="none" stroke="#ff2020" stroke-width="0.85"/>
<circle cx="627.1" cy="158.0" r="2.5" fill="none" stroke="#ff2020" stroke-width="0.85"/>
<circle cx="635.5" cy="157.3" r="2.5" fill="none" stroke="#ff2020" stroke-width="0.85"/>
<circle cx="644.2" cy="158.6" r="2.5" fill="none" stroke="#ff2020" stroke-width="0.85"/>
<circle cx="653.4" cy="156.0" r="2.5" fill="none" stroke="#ff2020" stroke-width="0.85"/>
<circle cx="663.0" cy="153.5" r="2.5" fill="none" stroke="#ff2020" stroke-width="0.85"/>
<circle cx="673.0" cy="154.4" r="2.5" fill="none" stroke="#ff2020" stroke-width="0.85"/>
<circle cx="683.7" cy="152.7" r="2.5" fill="none" stroke="#ff2020" stroke-width="0.85"/>
<circle cx="694.5" cy="151.7" r="2.5" fill="none" stroke="#ff2020" stroke-width="0.85"/>
<circle cx="706.4" cy="147.7" r="2.5" fill="none" stroke="#ff2020" stroke-width="0.85"/>
<circle cx="718.7" cy="143.4" r="2.5" fill="none" stroke="#ff2020" stroke-width="0.85"/>
<circle cx="731.0" cy="138.4" r="2.5" fill="none" stroke="#ff2020" stroke-width="0.85"/>
<circle cx="744.5" cy="133.9" r="2.5" fill="none" stroke="#ff2020" stroke-width="0.85"/>
<circle cx="758.6" cy="127.7" r="2.5" fill="none" stroke="#ff2020" stroke-width="0.85"/>
<path d="M582.90 168.10L585.45 173.00L580.35 173.00ZM585.91 162.30L588.46 167.20L583.36 167.20ZM591.12 162.30L593.67 167.20L588.57 167.20ZM597.74 160.70L600.29 165.60L595.19 165.60ZM604.46 158.50L607.01 163.40L601.91 163.40ZM611.58 156.60L614.13 161.50L609.03 161.50ZM619.30 155.30L621.85 160.20L616.75 160.20ZM627.12 155.00L629.67 159.90L624.57 159.90ZM635.54 154.00L638.09 158.90L632.99 158.90ZM644.16 153.30L646.71 158.20L641.61 158.20ZM653.39 153.00L655.94 157.90L650.84 157.90ZM663.01 151.20L665.56 156.10L660.46 156.10ZM673.04 150.80L675.59 155.70L670.49 155.70ZM683.67 145.70L686.22 150.60L681.12 150.60ZM694.50 143.20L697.05 148.10L691.95 148.10ZM706.43 139.50L708.98 144.40L703.88 144.40ZM718.66 135.00L721.21 139.90L716.11 139.90ZM731.00 130.70L733.55 135.60L728.45 135.60ZM744.53 126.70L747.08 131.60L741.98 131.60ZM758.57 118.20L761.12 123.10L756.02 123.10Z" fill="none" stroke="#00ee00" stroke-width="0.85"/>
<rect x="583.0" y="5.5" width="186.5" height="186.0" fill="none" stroke="#5a5a5a" stroke-width="1"/>
<path d="M583.00 419.68h5 M583.00 378.23h5 M583.00 336.79h5 M583.00 295.34h5 M645.17 440.40v-5 M707.33 440.40v-5" stroke="#5a5a5a" stroke-width="1" fill="none"/>
<text transform="rotate(0.05 575.45 424.53)" x="575.45" y="424.53" text-anchor="end" font-size="12.5">0</text>
<text transform="rotate(0.05 575.45 383.08)" x="575.45" y="383.08" text-anchor="end" font-size="12.5">0.2</text>
<text transform="rotate(0.05 575.45 341.64)" x="575.45" y="341.64" text-anchor="end" font-size="12.5">0.4</text>
<text transform="rotate(0.05 575.45 300.19)" x="575.45" y="300.19" text-anchor="end" font-size="12.5">0.6</text>
<text transform="rotate(0.05 575.45 258.75)" x="575.45" y="258.75" text-anchor="end" font-size="12.5">0.8</text>
<text transform="rotate(0.05 585.15 457.69)" x="585.15" y="457.69" text-anchor="middle" font-size="12.5">0</text>
<text transform="rotate(0.05 647.32 457.69)" x="647.32" y="457.69" text-anchor="middle" font-size="12.5">0.5</text>
<text transform="rotate(0.05 709.48 457.69)" x="709.48" y="457.69" text-anchor="middle" font-size="12.5">1</text>
<text transform="rotate(0.05 771.65 457.69)" x="771.65" y="457.69" text-anchor="middle" font-size="12.5">1.5</text>
<text transform="rotate(0.05 675.85 478.30)" x="675.85" y="478.30" text-anchor="middle" font-size="12.5" textLength="33.4" lengthAdjust="spacingAndGlyphs">Strain</text>
<text transform="translate(537.60 347.15) rotate(-90)" text-anchor="middle" font-size="12.5">Stress</text>
<text transform="rotate(0.05 585.30 265.20)" x="585.30" y="265.20" font-size="12.0" textLength="10.8" lengthAdjust="spacingAndGlyphs" style="stroke-width:0.12px">(j)</text>
<clipPath id="clipj"><rect x="583.0" y="253.9" width="186.5" height="186.49999999999997"/></clipPath>
<g clip-path="url(#clipj)">
<polyline points="583.3,419.0 585.7,411.1 590.8,402.1 597.3,392.8 603.7,389.9 611.4,390.5 619.1,387.1 626.8,387.3 634.5,386.7 643.5,383.5 652.5,379.6 661.4,377.7 670.4,379.0 678.0,377.4 683.1,376.2 693.9,377.2 705.7,374.4 717.9,368.2 730.2,363.6 743.7,356.9 757.7,355.6" fill="none" stroke="#000000" stroke-width="1.2" stroke-linejoin="round"/>
<polyline points="583.3,419.0 585.7,413.0 590.8,406.6 603.7,402.1 616.5,397.2 629.3,393.4 642.2,390.5 655.0,388.0 667.9,384.8 678.0,382.8 683.1,380.7 693.9,377.7 705.7,372.4 717.9,371.9 730.2,363.1 743.7,356.9 757.7,353.6" fill="none" stroke="#0000ff" stroke-width="1.2" stroke-linejoin="round"/>
</g>
<circle cx="582.9" cy="419.0" r="2.5" fill="none" stroke="#ff2020" stroke-width="0.85"/>
<circle cx="585.9" cy="406.6" r="2.5" fill="none" stroke="#ff2020" stroke-width="0.85"/>
<circle cx="591.1" cy="401.5" r="2.5" fill="none" stroke="#ff2020" stroke-width="0.85"/>
<circle cx="597.7" cy="399.8" r="2.5" fill="none" stroke="#ff2020" stroke-width="0.85"/>
<circle cx="604.5" cy="397.0" r="2.5" fill="none" stroke="#ff2020" stroke-width="0.85"/>
<circle cx="611.6" cy="395.7" r="2.5" fill="none" stroke="#ff2020" stroke-width="0.85"/>
<circle cx="619.3" cy="397.6" r="2.5" fill="none" stroke="#ff2020" stroke-width="0.85"/>
<circle cx="627.1" cy="392.8" r="2.5" fill="none" stroke="#ff2020" stroke-width="0.85"/>
<circle cx="635.5" cy="390.8" r="2.5" fill="none" stroke="#ff2020" stroke-width="0.85"/>
<circle cx="644.2" cy="389.9" r="2.5" fill="none" stroke="#ff2020" stroke-width="0.85"/>
<circle cx="653.4" cy="387.7" r="2.5" fill="none" stroke="#ff2020" stroke-width="0.85"/>
<circle cx="663.0" cy="386.0" r="2.5" fill="none" stroke="#ff2020" stroke-width="0.85"/>
<circle cx="673.0" cy="383.5" r="2.5" fill="none" stroke="#ff2020" stroke-width="0.85"/>
<circle cx="683.7" cy="380.2" r="2.5" fill="none" stroke="#ff2020" stroke-width="0.85"/>
<circle cx="694.5" cy="377.7" r="2.5" fill="none" stroke="#ff2020" stroke-width="0.85"/>
<circle cx="706.4" cy="374.4" r="2.5" fill="none" stroke="#ff2020" stroke-width="0.85"/>
<circle cx="718.7" cy="368.2" r="2.5" fill="none" stroke="#ff2020" stroke-width="0.85"/>
<circle cx="731.0" cy="364.4" r="2.5" fill="none" stroke="#ff2020" stroke-width="0.85"/>
<circle cx="744.5" cy="353.6" r="2.5" fill="none" stroke="#ff2020" stroke-width="0.85"/>
<circle cx="758.6" cy="344.6" r="2.5" fill="none" stroke="#ff2020" stroke-width="0.85"/>
<path d="M582.90 416.30L585.45 421.20L580.35 421.20ZM585.91 408.40L588.46 413.30L583.36 413.30ZM591.12 403.90L593.67 408.80L588.57 408.80ZM597.74 403.50L600.29 408.40L595.19 408.40ZM604.46 398.80L607.01 403.70L601.91 403.70ZM611.58 396.60L614.13 401.50L609.03 401.50ZM619.30 393.00L621.85 397.90L616.75 397.90ZM627.12 390.10L629.67 395.00L624.57 395.00ZM635.54 386.80L638.09 391.70L632.99 391.70ZM644.16 383.30L646.71 388.20L641.61 388.20ZM653.39 384.00L655.94 388.90L650.84 388.90ZM663.01 379.50L665.56 384.40L660.46 384.40ZM673.04 374.00L675.59 378.90L670.49 378.90ZM683.67 373.50L686.22 378.40L681.12 378.40ZM694.50 367.00L697.05 371.90L691.95 371.90ZM706.43 363.40L708.98 368.30L703.88 368.30ZM718.66 361.20L721.21 366.10L716.11 366.10ZM731.00 357.90L733.55 362.80L728.45 362.80ZM744.53 349.20L747.08 354.10L741.98 354.10ZM758.57 344.40L761.12 349.30L756.02 349.30Z" fill="none" stroke="#00ee00" stroke-width="0.85"/>
<rect x="583.0" y="253.9" width="186.5" height="186.49999999999997" fill="none" stroke="#5a5a5a" stroke-width="1"/>
<path d="M583.00 667.83h5 M583.00 626.50h5 M583.00 585.17h5 M583.00 543.83h5 M645.17 688.50v-5 M707.33 688.50v-5" stroke="#5a5a5a" stroke-width="1" fill="none"/>
<text transform="rotate(0.05 575.45 672.68)" x="575.45" y="672.68" text-anchor="end" font-size="12.5">0</text>
<text transform="rotate(0.05 575.45 631.35)" x="575.45" y="631.35" text-anchor="end" font-size="12.5">0.2</text>
<text transform="rotate(0.05 575.45 590.02)" x="575.45" y="590.02" text-anchor="end" font-size="12.5">0.4</text>
<text transform="rotate(0.05 575.45 548.68)" x="575.45" y="548.68" text-anchor="end" font-size="12.5">0.6</text>
<text transform="rotate(0.05 575.45 507.35)" x="575.45" y="507.35" text-anchor="end" font-size="12.5">0.8</text>
<text transform="rotate(0.05 585.15 706.39)" x="585.15" y="706.39" text-anchor="middle" font-size="12.5">0</text>
<text transform="rotate(0.05 647.32 706.39)" x="647.32" y="706.39" text-anchor="middle" font-size="12.5">0.5</text>
<text transform="rotate(0.05 709.48 706.39)" x="709.48" y="706.39" text-anchor="middle" font-size="12.5">1</text>
<text transform="rotate(0.05 771.65 706.39)" x="771.65" y="706.39" text-anchor="middle" font-size="12.5">1.5</text>
<text transform="rotate(0.05 675.85 726.40)" x="675.85" y="726.40" text-anchor="middle" font-size="12.5" textLength="33.4" lengthAdjust="spacingAndGlyphs">Strain</text>
<text transform="translate(537.60 595.50) rotate(-90)" text-anchor="middle" font-size="12.5">Stress</text>
<text transform="rotate(0.05 585.30 513.80)" x="585.30" y="513.80" font-size="12.0" textLength="14.4" lengthAdjust="spacingAndGlyphs" style="stroke-width:0.12px">(k)</text>
<clipPath id="clipk"><rect x="583.0" y="502.5" width="186.5" height="186.0"/></clipPath>
<g clip-path="url(#clipk)">
<polyline points="583.3,667.3 585.7,666.3 590.8,665.4 603.7,664.1 616.5,663.4 629.3,662.1 642.2,661.2 655.0,660.2 667.9,659.2 683.3,657.2 706.6,654.4 730.6,649.7 744.7,645.2 758.4,639.5" fill="none" stroke="#000000" stroke-width="1.2" stroke-linejoin="round"/>
<polyline points="583.3,667.3 585.7,665.7 590.8,664.8 603.7,663.1 616.5,661.2 629.3,659.3 642.2,658.0 655.0,657.0 667.9,655.5 683.3,652.3 706.6,648.4 730.6,644.1 744.7,641.0 758.4,637.0" fill="none" stroke="#0000ff" stroke-width="1.2" stroke-linejoin="round"/>
</g>
<circle cx="582.9" cy="667.3" r="2.5" fill="none" stroke="#ff2020" stroke-width="0.85"/>
<circle cx="585.9" cy="662.5" r="2.5" fill="none" stroke="#ff2020" stroke-width="0.85"/>
<circle cx="591.1" cy="662.1" r="2.5" fill="none" stroke="#ff2020" stroke-width="0.85"/>
<circle cx="597.7" cy="661.2" r="2.5" fill="none" stroke="#ff2020" stroke-width="0.85"/>
<circle cx="604.5" cy="660.8" r="2.5" fill="none" stroke="#ff2020" stroke-width="0.85"/>
<circle cx="611.6" cy="658.0" r="2.5" fill="none" stroke="#ff2020" stroke-width="0.85"/>
<circle cx="619.3" cy="656.9" r="2.5" fill="none" stroke="#ff2020" stroke-width="0.85"/>
<circle cx="627.1" cy="657.3" r="2.5" fill="none" stroke="#ff2020" stroke-width="0.85"/>
<circle cx="635.5" cy="656.7" r="2.5" fill="none" stroke="#ff2020" stroke-width="0.85"/>
<circle cx="644.2" cy="656.0" r="2.5" fill="none" stroke="#ff2020" stroke-width="0.85"/>
<circle cx="653.4" cy="653.5" r="2.5" fill="none" stroke="#ff2020" stroke-width="0.85"/>
<circle cx="663.0" cy="652.2" r="2.5" fill="none" stroke="#ff2020" stroke-width="0.85"/>
<circle cx="673.0" cy="651.3" r="2.5" fill="none" stroke="#ff2020" stroke-width="0.85"/>
<circle cx="683.7" cy="649.7" r="2.5" fill="none" stroke="#ff2020" stroke-width="0.85"/>
<circle cx="694.5" cy="647.4" r="2.5" fill="none" stroke="#ff2020" stroke-width="0.85"/>
<circle cx="706.4" cy="645.7" r="2.5" fill="none" stroke="#ff2020" stroke-width="0.85"/>
<circle cx="718.7" cy="642.4" r="2.5" fill="none" stroke="#ff2020" stroke-width="0.85"/>
<circle cx="731.0" cy="637.9" r="2.5" fill="none" stroke="#ff2020" stroke-width="0.85"/>
<circle cx="744.5" cy="633.7" r="2.5" fill="none" stroke="#ff2020" stroke-width="0.85"/>
<circle cx="758.6" cy="627.7" r="2.5" fill="none" stroke="#ff2020" stroke-width="0.85"/>
<path d="M582.90 664.60L585.45 669.50L580.35 669.50ZM585.91 662.30L588.46 667.20L583.36 667.20ZM591.12 664.30L593.67 669.20L588.57 669.20ZM597.74 661.90L600.29 666.80L595.19 666.80ZM604.46 661.00L607.01 665.90L601.91 665.90ZM611.58 660.70L614.13 665.60L609.03 665.60ZM619.30 658.10L621.85 663.00L616.75 663.00ZM627.12 655.90L629.67 660.80L624.57 660.80ZM635.54 654.00L638.09 658.90L632.99 658.90ZM644.16 653.70L646.71 658.60L641.61 658.60ZM653.39 652.70L655.94 657.60L650.84 657.60ZM663.01 649.50L665.56 654.40L660.46 654.40ZM673.04 648.20L675.59 653.10L670.49 653.10ZM683.67 643.00L686.22 647.90L681.12 647.90ZM694.50 640.70L697.05 645.60L691.95 645.60ZM706.43 638.00L708.98 642.90L703.88 642.90ZM718.66 632.20L721.21 637.10L716.11 637.10ZM731.00 628.50L733.55 633.40L728.45 633.40ZM744.53 621.50L747.08 626.40L741.98 626.40ZM758.57 615.70L761.12 620.60L756.02 620.60Z" fill="none" stroke="#00ee00" stroke-width="0.85"/>
<rect x="583.0" y="502.5" width="186.5" height="186.0" fill="none" stroke="#5a5a5a" stroke-width="1"/>
<path d="M583.00 916.28h5 M583.00 874.83h5 M583.00 833.39h5 M583.00 791.94h5 M645.17 937.00v-5 M707.33 937.00v-5" stroke="#5a5a5a" stroke-width="1" fill="none"/>
<text transform="rotate(0.05 575.45 921.13)" x="575.45" y="921.13" text-anchor="end" font-size="12.5">0</text>
<text transform="rotate(0.05 575.45 879.68)" x="575.45" y="879.68" text-anchor="end" font-size="12.5">0.2</text>
<text transform="rotate(0.05 575.45 838.24)" x="575.45" y="838.24" text-anchor="end" font-size="12.5">0.4</text>
<text transform="rotate(0.05 575.45 796.79)" x="575.45" y="796.79" text-anchor="end" font-size="12.5">0.6</text>
<text transform="rotate(0.05 575.45 755.35)" x="575.45" y="755.35" text-anchor="end" font-size="12.5">0.8</text>
<text transform="rotate(0.05 585.15 955.09)" x="585.15" y="955.09" text-anchor="middle" font-size="12.5">0</text>
<text transform="rotate(0.05 647.32 955.09)" x="647.32" y="955.09" text-anchor="middle" font-size="12.5">0.5</text>
<text transform="rotate(0.05 709.48 955.09)" x="709.48" y="955.09" text-anchor="middle" font-size="12.5">1</text>
<text transform="rotate(0.05 771.65 955.09)" x="771.65" y="955.09" text-anchor="middle" font-size="12.5">1.5</text>
<text transform="rotate(0.05 675.85 974.90)" x="675.85" y="974.90" text-anchor="middle" font-size="12.5" textLength="33.4" lengthAdjust="spacingAndGlyphs">Strain</text>
<text transform="translate(537.60 843.75) rotate(-90)" text-anchor="middle" font-size="12.5">Stress</text>
<text transform="rotate(0.05 585.30 761.80)" x="585.30" y="761.80" font-size="12.0" textLength="10.8" lengthAdjust="spacingAndGlyphs" style="stroke-width:0.12px">(l)</text>
<clipPath id="clipl"><rect x="583.0" y="750.5" width="186.5" height="186.5"/></clipPath>
<g clip-path="url(#clipl)">
<polyline points="583.3,915.8 585.7,913.9 590.8,912.2 603.7,910.0 616.5,908.1 629.3,905.9 642.2,903.6 655.0,901.0 672.7,896.0 683.3,892.5 694.6,889.3 706.3,885.5 718.3,879.8 731.0,872.7 744.5,863.6 758.4,849.4" fill="none" stroke="#000000" stroke-width="1.2" stroke-linejoin="round"/>
<polyline points="583.3,915.8 585.7,914.3 590.8,912.2 603.7,909.6 616.5,907.5 629.3,905.3 642.2,903.0 655.0,900.4 667.9,897.2 678.0,894.6 683.1,892.7 693.9,890.2 705.7,887.7 717.9,881.4 730.2,875.2 743.7,870.2 757.7,864.6" fill="none" stroke="#0000ff" stroke-width="1.2" stroke-linejoin="round"/>
</g>
<circle cx="582.9" cy="915.8" r="2.5" fill="none" stroke="#ff2020" stroke-width="0.85"/>
<circle cx="585.9" cy="913.5" r="2.5" fill="none" stroke="#ff2020" stroke-width="0.85"/>
<circle cx="591.1" cy="912.0" r="2.5" fill="none" stroke="#ff2020" stroke-width="0.85"/>
<circle cx="597.7" cy="911.7" r="2.5" fill="none" stroke="#ff2020" stroke-width="0.85"/>
<circle cx="604.5" cy="908.7" r="2.5" fill="none" stroke="#ff2020" stroke-width="0.85"/>
<circle cx="611.6" cy="909.4" r="2.5" fill="none" stroke="#ff2020" stroke-width="0.85"/>
<circle cx="619.3" cy="908.4" r="2.5" fill="none" stroke="#ff2020" stroke-width="0.85"/>
<circle cx="627.1" cy="907.9" r="2.5" fill="none" stroke="#ff2020" stroke-width="0.85"/>
<circle cx="635.5" cy="905.5" r="2.5" fill="none" stroke="#ff2020" stroke-width="0.85"/>
<circle cx="644.2" cy="904.0" r="2.5" fill="none" stroke="#ff2020" stroke-width="0.85"/>
<circle cx="653.4" cy="901.0" r="2.5" fill="none" stroke="#ff2020" stroke-width="0.85"/>
<circle cx="663.0" cy="897.8" r="2.5" fill="none" stroke="#ff2020" stroke-width="0.85"/>
<circle cx="673.0" cy="895.3" r="2.5" fill="none" stroke="#ff2020" stroke-width="0.85"/>
<circle cx="683.7" cy="893.4" r="2.5" fill="none" stroke="#ff2020" stroke-width="0.85"/>
<circle cx="694.5" cy="889.4" r="2.5" fill="none" stroke="#ff2020" stroke-width="0.85"/>
<circle cx="706.4" cy="883.4" r="2.5" fill="none" stroke="#ff2020" stroke-width="0.85"/>
<circle cx="718.7" cy="877.7" r="2.5" fill="none" stroke="#ff2020" stroke-width="0.85"/>
<circle cx="731.0" cy="870.2" r="2.5" fill="none" stroke="#ff2020" stroke-width="0.85"/>
<circle cx="744.5" cy="860.1" r="2.5" fill="none" stroke="#ff2020" stroke-width="0.85"/>
<circle cx="758.6" cy="846.4" r="2.5" fill="none" stroke="#ff2020" stroke-width="0.85"/>
<path d="M582.90 913.10L585.45 918.00L580.35 918.00ZM585.91 910.30L588.46 915.20L583.36 915.20ZM591.12 908.60L593.67 913.50L588.57 913.50ZM597.74 907.30L600.29 912.20L595.19 912.20ZM604.46 905.40L607.01 910.30L601.91 910.30ZM611.58 904.80L614.13 909.70L609.03 909.70ZM619.30 903.50L621.85 908.40L616.75 908.40ZM627.12 902.20L629.67 907.10L624.57 907.10ZM635.54 900.30L638.09 905.20L632.99 905.20ZM644.16 898.30L646.71 903.20L641.61 903.20ZM653.39 895.80L655.94 900.70L650.84 900.70ZM663.01 891.90L665.56 896.80L660.46 896.80ZM673.04 888.70L675.59 893.60L670.49 893.60ZM683.67 884.50L686.22 889.40L681.12 889.40ZM694.50 878.70L697.05 883.60L691.95 883.60ZM706.43 872.00L708.98 876.90L703.88 876.90ZM718.66 863.70L721.21 868.60L716.11 868.60ZM731.00 851.20L733.55 856.10L728.45 856.10ZM744.53 834.40L747.08 839.30L741.98 839.30ZM758.57 812.40L761.12 817.30L756.02 817.30Z" fill="none" stroke="#00ee00" stroke-width="0.85"/>
<rect x="583.0" y="750.5" width="186.5" height="186.5" fill="none" stroke="#5a5a5a" stroke-width="1"/>
<text transform="rotate(0.05 469.6 22.0)" x="469.6" y="22.0" text-anchor="end" font-size="12.5" textLength="63.4" lengthAdjust="spacingAndGlyphs">MD/Parallel</text>
<text transform="rotate(0.05 469.6 35.3)" x="469.6" y="35.3" text-anchor="end" font-size="12.5" textLength="100.8" lengthAdjust="spacingAndGlyphs">MD/Perpendicular</text>
<text transform="rotate(0.05 469.6 48.6)" x="469.6" y="48.6" text-anchor="end" font-size="12.5" textLength="61.3" lengthAdjust="spacingAndGlyphs">ML/Parallel</text>
<text transform="rotate(0.05 469.6 61.9)" x="469.6" y="61.9" text-anchor="end" font-size="12.5" textLength="98.1" lengthAdjust="spacingAndGlyphs">ML/Perpendicular</text>
<path d="M477.7 16.5H490.3" stroke="#000" stroke-width="1"/>
<path d="M477.7 30.5H490.3" stroke="#0000ff" stroke-width="1"/>
<circle cx="484" cy="44.5" r="2.5" fill="none" stroke="#ff2020" stroke-width="0.85"/>
<path d="M484.00 54.90L486.55 59.80L481.45 59.80Z" fill="none" stroke="#00ee00" stroke-width="0.85"/>
</svg></body></html>
